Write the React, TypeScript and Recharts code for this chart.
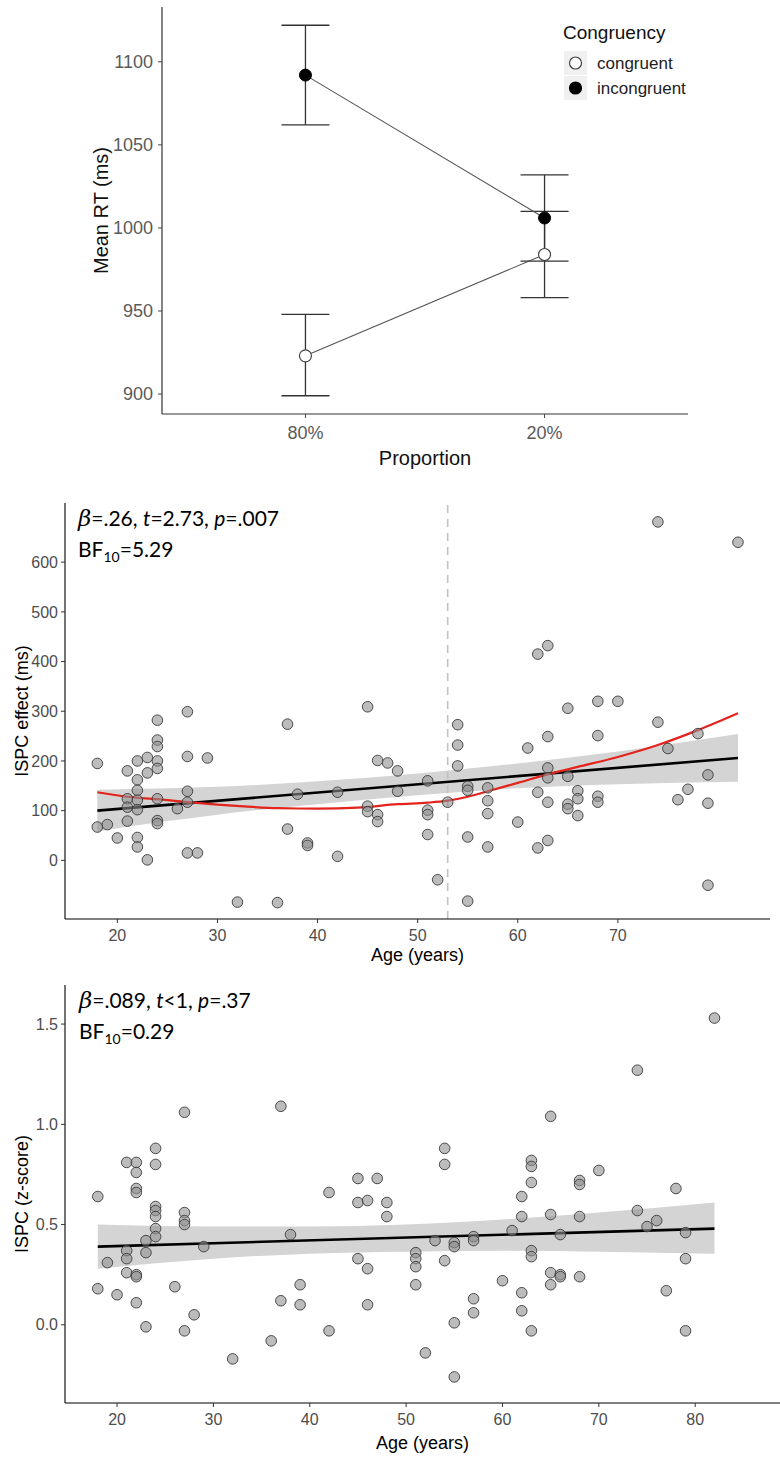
import React from 'react';
import { LineChart, Line, ErrorBar, XAxis, YAxis, ComposedChart, Scatter, Area, ReferenceLine } from 'recharts';

// Panel A: mean RT by proportion congruent
const proportions = ['80%', '20%'];
const congruency = ['congruent', 'incongruent'];
const congruentRT = [923, 984];
const congruentLow = [899, 958];
const congruentHigh = [948, 1010];
const incongruentRT = [1092, 1006];
const incongruentLow = [1062, 980];
const incongruentHigh = [1122, 1032];
const rtTicks = [900, 950, 1000, 1050, 1100];

// Panel B: ISPC effect (ms) by age  [age, ms]
const ispcMsPoints: [number, number][] = [
  [18, 195], [18, 67], [19, 72], [20, 45], [21, 180], [21, 124], [21, 107], [21, 79],
  [22, 200], [22, 162], [22, 141], [22, 121], [22, 102], [22, 46], [22, 27],
  [23, 207], [23, 176], [23, 1], [24, 282], [24, 242], [24, 229], [24, 200], [24, 185],
  [24, 124], [24, 80], [24, 74], [26, 104], [27, 299], [27, 209], [27, 139], [27, 117],
  [27, 15], [28, 15], [29, 206], [32, -84], [36, -85], [37, 274], [37, 63], [38, 133],
  [39, 35], [39, 30], [42, 137], [42, 8], [45, 309], [45, 109], [45, 98], [46, 201],
  [46, 92], [46, 78], [47, 196], [48, 180], [48, 139], [51, 160], [51, 101], [51, 92],
  [51, 52], [52, -39], [53, 117], [54, 273], [54, 232], [54, 190], [55, 149], [55, 141],
  [55, 47], [55, -82], [57, 146], [57, 120], [57, 94], [57, 27], [60, 77], [61, 226],
  [62, 415], [62, 137], [62, 25], [63, 432], [63, 249], [63, 186], [63, 166], [63, 117],
  [63, 40], [65, 306], [65, 169], [65, 113], [65, 104], [66, 140], [66, 124], [66, 90],
  [68, 320], [68, 251], [68, 129], [68, 117], [70, 320], [74, 681], [74, 278], [75, 225],
  [76, 122], [77, 143], [78, 255], [79, 172], [79, 115], [79, -50], [82, 640],
];
const msFit: [number, number][] = [[18, 100], [82, 206]];
const msBandAges = [18, 25, 30, 40, 50, 60, 70, 82];
const msBandLow = [58, 79, 92, 113, 131, 145, 153, 158];
const msBandHigh = [142, 145, 148, 159, 175, 195, 219, 254];
const msLoessAges = [18, 21, 24, 27, 30, 33, 36, 40, 44, 48, 51, 53, 55, 57, 60, 63, 66, 70, 74, 78, 82];
const msLoess = [137, 128, 123, 117, 112, 108, 105, 104, 106, 113, 116, 120, 128, 139, 156, 173, 188, 208, 232, 262, 296];
const msTicks = [0, 100, 200, 300, 400, 500, 600];
const breakAge = 53;

// Panel C: ISPC z-score by age  [age, z]
const ispcZPoints: [number, number][] = [
  [18, 0.64], [18, 0.18], [19, 0.31], [20, 0.15], [21, 0.81], [21, 0.37], [21, 0.33], [21, 0.26],
  [22, 0.81], [22, 0.76], [22, 0.68], [22, 0.66], [22, 0.25], [22, 0.24], [22, 0.11],
  [23, 0.42], [23, 0.36], [23, -0.01], [24, 0.88], [24, 0.8], [24, 0.59], [24, 0.57], [24, 0.54],
  [24, 0.48], [24, 0.44], [26, 0.19], [27, 1.06], [27, 0.56], [27, 0.52], [27, 0.5], [27, -0.03],
  [28, 0.05], [29, 0.39], [32, -0.17], [36, -0.08], [37, 1.09], [37, 0.12], [38, 0.45],
  [39, 0.2], [39, 0.1], [42, 0.66], [42, -0.03], [45, 0.73], [45, 0.61], [45, 0.33],
  [46, 0.62], [46, 0.28], [46, 0.1], [47, 0.73], [48, 0.61], [48, 0.54], [51, 0.36], [51, 0.33],
  [51, 0.29], [51, 0.2], [52, -0.14], [53, 0.42], [54, 0.88], [54, 0.8], [54, 0.32], [55, 0.41],
  [55, 0.39], [55, 0.01], [55, -0.26], [57, 0.44], [57, 0.42], [57, 0.13], [57, 0.06], [60, 0.22],
  [61, 0.47], [62, 0.64], [62, 0.54], [62, 0.16], [62, 0.07], [63, 0.82], [63, 0.79], [63, 0.71],
  [63, 0.37], [63, 0.34], [63, -0.03], [65, 1.04], [65, 0.55], [65, 0.26], [65, 0.2], [66, 0.45],
  [66, 0.25], [66, 0.24], [68, 0.72], [68, 0.7], [68, 0.54], [68, 0.24], [70, 0.77], [74, 1.27],
  [74, 0.57], [75, 0.49], [76, 0.52], [77, 0.17], [78, 0.68], [79, 0.46], [79, 0.33], [79, -0.03],
  [82, 1.53],
];
const zFit: [number, number][] = [[18, 0.39], [82, 0.48]];
const zBandAges = [18, 30, 40, 50, 60, 70, 82];
const zBandLow = [0.28, 0.33, 0.355, 0.365, 0.37, 0.365, 0.355];
const zBandHigh = [0.5, 0.49, 0.49, 0.5, 0.525, 0.56, 0.61];
const zTicks = [0, 0.5, 1, 1.5];

const ageTicksMs = [20, 30, 40, 50, 60, 70];
const ageTicksZ = [20, 30, 40, 50, 60, 70, 80];

const AXIS_FONT = '"Liberation Sans", Arial, sans-serif';

const rtRows = (mean: number[], low: number[], high: number[]) =>
  mean.map((y, i) => ({ x: i + 1, y, err: [y - low[i], high[i] - y] }));
const pairRows = (pts: [number, number][]) => pts.map(([age, v]) => ({ age, v }));
const bandRows = (ages: number[], lo: number[], hi: number[]) =>
  ages.map((age, i) => ({ age, band: [lo[i], hi[i]] }));

const pointShape = (p: any) => (
  <circle cx={p.cx} cy={p.cy} r={5.3} fill="#8f8f8f" fillOpacity={0.6} stroke="#3a3a3a" strokeWidth={0.9} />
);

const tickStyle = { fill: '#4d4d4d', fontSize: 16, fontFamily: AXIS_FONT };
const topTick = { fill: '#5a5a5a', fontSize: 18, fontFamily: AXIS_FONT };

function StatNote({ x, y, beta, t, tOp, p, bf }: any) {
  return (
    <g fontFamily="Lato, sans-serif" fontSize={21} fill="#000">
      <text x={x} y={y}>
        <tspan fontFamily='"DejaVu Serif", serif' fontStyle="italic" fontSize={23}>β</tspan>
        <tspan>{`=${beta}, `}</tspan>
        <tspan fontStyle="italic">t</tspan>
        <tspan>{`${tOp}${t}, `}</tspan>
        <tspan fontStyle="italic">p</tspan>
        <tspan>{`=${p}`}</tspan>
      </text>
      <text x={x} y={y + 31}>
        BF<tspan dy={5} fontSize={14}>10</tspan>
        <tspan dy={-5}>{`=${bf}`}</tspan>
      </text>
    </g>
  );
}

export default function App() {
  return (
    <div style={{ position: 'absolute', left: 0, top: 0, width: 780, height: 1458, background: '#fff', fontFamily: AXIS_FONT }}>
      {/* Mean RT panel */}
      <div style={{ position: 'absolute', left: 0, top: 0 }}>
        <LineChart width={780} height={470} margin={{ top: 7, right: 92, bottom: 0, left: 92 }}>
          <XAxis
            type="number"
            dataKey="x"
            domain={[0.4, 2.6]}
            ticks={[1, 2]}
            tickFormatter={(v: number) => proportions[v - 1]}
            height={56}
            tickSize={4}
            tickMargin={8}
            tick={topTick}
            axisLine={{ stroke: '#333', strokeWidth: 1.2 }}
            tickLine={{ stroke: '#444' }}
            label={{ value: 'Proportion', position: 'insideBottom', offset: 5, fontSize: 20, fill: '#111', fontFamily: AXIS_FONT }}
          />
          <YAxis
            type="number"
            dataKey="y"
            domain={[888, 1133]}
            ticks={rtTicks}
            width={70}
            tickSize={4}
            tickMargin={5}
            tick={topTick}
            axisLine={{ stroke: '#333', strokeWidth: 1.2 }}
            tickLine={{ stroke: '#444' }}
            label={{ value: 'Mean RT (ms)', angle: -90, position: 'insideLeft', offset: 9, fontSize: 20, fill: '#111', fontFamily: AXIS_FONT, style: { textAnchor: 'middle' } }}
          />
          <Line
            data={rtRows(congruentRT, congruentLow, congruentHigh)}
            dataKey="y"
            stroke="#555"
            strokeWidth={1.1}
            dot={{ r: 6, fill: '#fff', stroke: '#444', strokeWidth: 1.2 }}
            activeDot={false}
            isAnimationActive={false}
          >
            <ErrorBar dataKey="err" direction="y" width={24} stroke="#333" strokeWidth={1.3} />
          </Line>
          <Line
            data={rtRows(incongruentRT, incongruentLow, incongruentHigh)}
            dataKey="y"
            stroke="#555"
            strokeWidth={1.1}
            dot={{ r: 6, fill: '#000', stroke: '#000', strokeWidth: 1 }}
            activeDot={false}
            isAnimationActive={false}
          >
            <ErrorBar dataKey="err" direction="y" width={24} stroke="#333" strokeWidth={1.3} />
          </Line>
        </LineChart>
      </div>

      {/* ISPC effect (ms) panel */}
      <div style={{ position: 'absolute', left: 0, top: 480 }}>
        <ComposedChart width={780} height={490} margin={{ top: 23, right: 10, bottom: 1, left: 5 }}>
          <XAxis
            type="number"
            dataKey="age"
            domain={[14.77, 85.2]}
            ticks={ageTicksMs}
            allowDataOverflow
            height={50}
            tickSize={4}
            tickMargin={7}
            tick={tickStyle}
            axisLine={{ stroke: '#000', strokeWidth: 1.1 }}
            tickLine={{ stroke: '#333' }}
            label={{ value: 'Age (years)', position: 'insideBottom', offset: 8, fontSize: 18, fill: '#000', fontFamily: AXIS_FONT }}
          />
          <YAxis
            type="number"
            dataKey="v"
            domain={[-118, 719]}
            ticks={msTicks}
            allowDataOverflow
            width={60}
            tickSize={4}
            tickMargin={3}
            tick={tickStyle}
            axisLine={{ stroke: '#000', strokeWidth: 1.1 }}
            tickLine={{ stroke: '#333' }}
            label={{ value: 'ISPC effect (ms)', angle: -90, position: 'insideLeft', offset: 17, fontSize: 18, fill: '#000', fontFamily: AXIS_FONT, style: { textAnchor: 'middle' } }}
          />
          <ReferenceLine x={breakAge} stroke="#c2c2c2" strokeWidth={1.6} strokeDasharray="8 6" />
          <Scatter data={pairRows(ispcMsPoints)} dataKey="v" shape={pointShape} isAnimationActive={false} />
          <Area
            data={bandRows(msBandAges, msBandLow, msBandHigh)}
            dataKey="band"
            type="monotone"
            stroke="none"
            fill="#b0b0b0"
            fillOpacity={0.55}
            activeDot={false}
            isAnimationActive={false}
          />
          <Line data={pairRows(msFit)} dataKey="v" type="linear" stroke="#000" strokeWidth={2.6} dot={false} activeDot={false} isAnimationActive={false} />
          <Line data={msLoessAges.map((age, i) => ({ age, v: msLoess[i] }))} dataKey="v" type="monotone" stroke="#e3231c" strokeWidth={2.2} dot={false} activeDot={false} isAnimationActive={false} />
        </ComposedChart>
      </div>

      {/* ISPC z-score panel */}
      <div style={{ position: 'absolute', left: 0, top: 960 }}>
        <ComposedChart width={780} height={498} margin={{ top: 25, right: 0, bottom: 5, left: 5 }}>
          <XAxis
            type="number"
            dataKey="age"
            domain={[14.6, 88.8]}
            ticks={ageTicksZ}
            allowDataOverflow
            height={50}
            tickSize={4}
            tickMargin={7}
            tick={tickStyle}
            axisLine={{ stroke: '#000', strokeWidth: 1.1 }}
            tickLine={{ stroke: '#333' }}
            label={{ value: 'Age (years)', position: 'insideBottom', offset: 4, fontSize: 18, fill: '#000', fontFamily: AXIS_FONT }}
          />
          <YAxis
            type="number"
            dataKey="v"
            domain={[-0.39, 1.695]}
            ticks={zTicks}
            tickFormatter={(v: number) => v.toFixed(1)}
            allowDataOverflow
            width={60}
            tickSize={4}
            tickMargin={3}
            tick={tickStyle}
            axisLine={{ stroke: '#000', strokeWidth: 1.1 }}
            tickLine={{ stroke: '#333' }}
            label={{ value: 'ISPC (z-score)', angle: -90, position: 'insideLeft', offset: 17, fontSize: 18, fill: '#000', fontFamily: AXIS_FONT, style: { textAnchor: 'middle' } }}
          />
          <Scatter data={pairRows(ispcZPoints)} dataKey="v" shape={pointShape} isAnimationActive={false} />
          <Area
            data={bandRows(zBandAges, zBandLow, zBandHigh)}
            dataKey="band"
            type="monotone"
            stroke="none"
            fill="#b0b0b0"
            fillOpacity={0.55}
            activeDot={false}
            isAnimationActive={false}
          />
          <Line data={pairRows(zFit)} dataKey="v" type="linear" stroke="#000" strokeWidth={2.6} dot={false} activeDot={false} isAnimationActive={false} />
        </ComposedChart>
      </div>

      {/* legend and statistics overlay */}
      <svg width={780} height={1458} style={{ position: 'absolute', left: 0, top: 0, pointerEvents: 'none' }}>
        <text x={563} y={39} fontSize={19} fill="#111" fontFamily={AXIS_FONT}>Congruency</text>
        {congruency.map((name, i) => (
          <g key={name}>
            <rect x={564} y={51 + i * 25} width={23} height={24} fill="#f0f0f0" />
            <circle cx={575.5} cy={63 + i * 25} r={6} fill={i === 0 ? '#fff' : '#000'} stroke={i === 0 ? '#444' : '#000'} strokeWidth={1.2} />
            <text x={597} y={69 + i * 25} fontSize={17} fill="#222" fontFamily={AXIS_FONT}>{name}</text>
          </g>
        ))}
        <StatNote x={78} y={526} beta=".26" tOp="=" t="2.73" p=".007" bf="5.29" />
        <StatNote x={79} y={1008} beta=".089" tOp="<" t="1" p=".37" bf="0.29" />
      </svg>
    </div>
  );
}
